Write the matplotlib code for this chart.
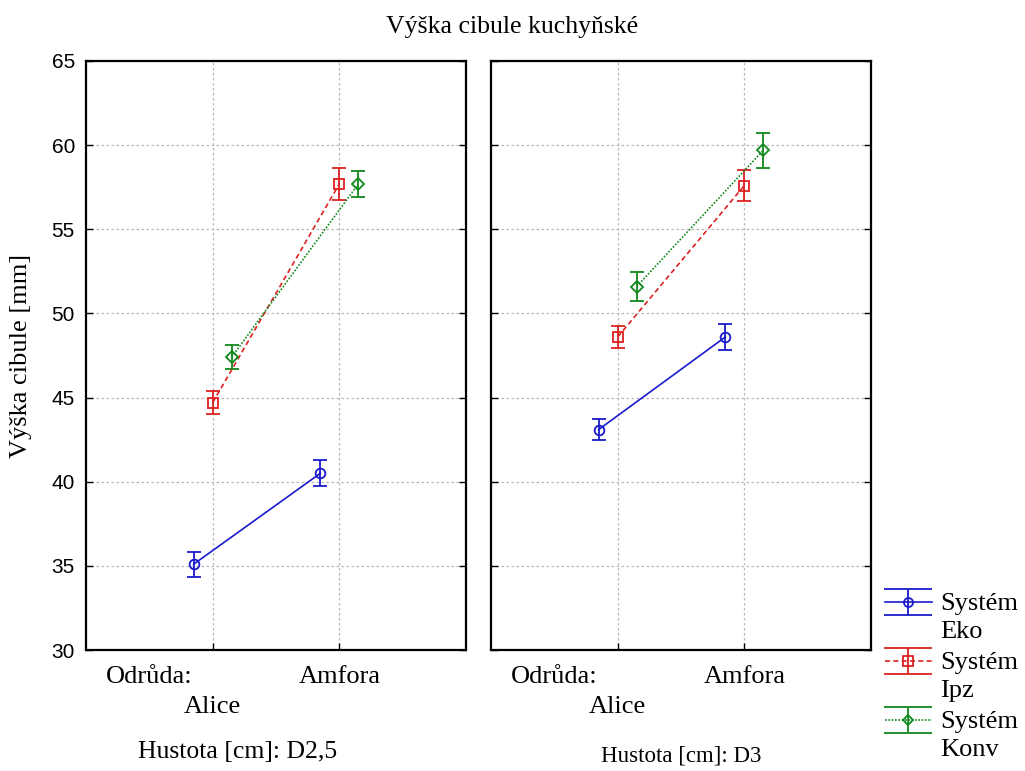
import matplotlib
matplotlib.use("Agg")
import matplotlib.pyplot as plt
import numpy as np
from matplotlib.lines import Line2D
from matplotlib.path import Path
from matplotlib.legend_handler import HandlerTuple

categories = ["Alice", "Amfora"]
series = ["Systém\nEko", "Systém\nIpz", "Systém\nKonv"]
panels = ["Hustota [cm]: D2,5", "Hustota [cm]: D3"]

# means [panel][series][category]
eko_d25 = [35.1, 40.5]
ipz_d25 = [44.7, 57.7]
konv_d25 = [47.4, 57.7]
eko_d3 = [43.1, 48.6]
ipz_d3 = [48.6, 57.6]
konv_d3 = [51.6, 59.7]
# half-widths of error bars
eko_d25_err = [0.75, 0.77]
ipz_d25_err = [0.7, 0.95]
konv_d25_err = [0.7, 0.77]
eko_d3_err = [0.6, 0.8]
ipz_d3_err = [0.65, 0.9]
konv_d3_err = [0.85, 1.05]

means = [[eko_d25, ipz_d25, konv_d25], [eko_d3, ipz_d3, konv_d3]]
errs = [[eko_d25_err, ipz_d25_err, konv_d25_err], [eko_d3_err, ipz_d3_err, konv_d3_err]]

colors = ["#1a1acc", "#dd2020", "#10881a"]
markers = ["o", "s", "D"]
msizes = [7, 7, 6]
lstyles = ["-", (0, (3, 2)), (0, (1, 1))]
offsets = [-0.15, 0.0, 0.15]

serif = "Liberation Serif"
sans = "Liberation Sans"

fig = plt.figure(figsize=(10.25, 7.71), dpi=100)
axpos = [[86/1025, 121/771, 380/1025, 589/771], [491/1025, 121/771, 380/1025, 589/771]]

x = np.arange(len(categories))
for p in range(2):
    ax = fig.add_axes(axpos[p])
    for s in range(3):
        ax.errorbar(x + offsets[s], means[p][s], yerr=errs[p][s], color=colors[s],
                    marker=markers[s], ms=msizes[s], mfc="none", mec=colors[s], mew=1.3,
                    linestyle=lstyles[s], lw=1.2, capsize=5, capthick=1.3, elinewidth=1.3,
                    zorder=3)
    ax.set_xlim(-1, 2)
    ax.set_ylim(30, 65)
    ax.set_yticks(np.arange(30, 66, 5))
    ax.set_xticks(x)
    ax.set_xticklabels([])
    ax.grid(True, color="#b8b8b8", linestyle=(0, (2, 2)), lw=0.9)
    ax.tick_params(direction="in", length=5, width=1, left=True, right=True, top=False,
                   bottom=True, pad=8)
    for sp in ax.spines.values():
        sp.set_linewidth(1.6)
    if p == 0:
        for lab in ax.get_yticklabels():
            lab.set_fontfamily(sans)
            lab.set_fontsize(15)
        ax.set_ylabel("Výška cibule [mm]", fontfamily=serif, fontsize=19, labelpad=14)
    else:
        ax.set_yticklabels([])
    # category labels
    tr = ax.get_xaxis_transform()
    ax.text(-0.5, -0.045, "Odrůda:", transform=tr, ha="center", va="center",
            fontfamily=serif, fontsize=19)
    ax.text(0, -0.097, categories[0], transform=tr, ha="center", va="center",
            fontfamily=serif, fontsize=19)
    ax.text(1, -0.045, categories[1], transform=tr, ha="center", va="center",
            fontfamily=serif, fontsize=19)
    ax.text(0.4 if p == 0 else 0.5, -0.173 if p == 0 else -0.18, panels[p],
            transform=ax.transAxes, ha="center", va="center",
            fontfamily=serif, fontsize=18.5 if p == 0 else 16.5)

fig.text(0.5, 0.965, "Výška cibule kuchyňské", ha="center", va="center",
         fontfamily=serif, fontsize=18.5)


class ShiftedTuple(HandlerTuple):
    """Overlay the tuple's handles and lift them to the first text line."""
    def __init__(self, shift=0.0, **kw):
        super().__init__(**kw)
        self.shift = shift

    def create_artists(self, legend, orig_handle, xdescent, ydescent, width, height,
                       fontsize, trans):
        return super().create_artists(legend, orig_handle, xdescent,
                                      ydescent - 2 * self.shift, width, height,
                                      fontsize, trans)


# legend handles: line + errorbar-shaped marker + symbol marker (overlaid)
ebar_path = Path([(-1, 0.53), (1, 0.53), (0, 0.53), (0, -0.53), (-1, -0.53), (1, -0.53)],
                 [Path.MOVETO, Path.LINETO, Path.MOVETO, Path.LINETO, Path.MOVETO, Path.LINETO])
handles = []
for s in range(3):
    h1 = Line2D([], [], color=colors[s], linestyle=lstyles[s], lw=1.2,
                marker=ebar_path, ms=34, mew=1.3, mfc="none", mec=colors[s])
    h2 = Line2D([], [], color=colors[s], linestyle="none", marker=markers[s],
                ms=msizes[s] - 0.5, mfc="none", mec=colors[s], mew=1.3)
    handles.append((h1, h2))
leg = fig.legend(handles, series, loc="upper left", bbox_to_anchor=(885/1025, 178/771),
                 frameon=False, prop={"family": serif, "size": 19},
                 handler_map={tuple: ShiftedTuple(shift=11, ndivide=1)},
                 handlelength=1.78, handletextpad=0.3, labelspacing=0.35, borderaxespad=0,
                 borderpad=0, numpoints=1)
for t in leg.get_texts():
    t.set_linespacing(1.35)

fig.savefig("out.png", dpi=100)
